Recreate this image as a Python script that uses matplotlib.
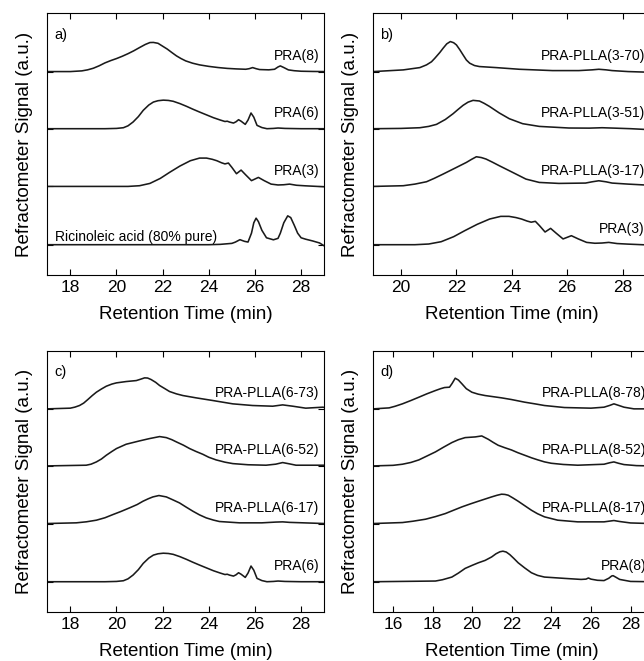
import matplotlib
matplotlib.use("Agg")
import matplotlib.pyplot as plt

plt.rcParams['font.family'] = ['Liberation Sans', 'DejaVu Sans']

# ---- panel a: PRA series and ricinoleic acid ----
pra8_a_t = [17.0, 18.0, 18.5, 18.75, 19.0, 19.25, 19.5, 19.75, 20.0, 20.25, 20.5, 20.75, 21.0, 21.25,
            21.45, 21.6, 21.8, 22.0, 22.2, 22.4, 22.6, 22.8, 23.0, 23.3, 23.6, 24.0, 24.4, 24.8, 25.2,
            25.6, 25.75, 25.9, 26.05, 26.2, 26.6, 26.85, 27.0, 27.1, 27.25, 27.45, 27.7, 28.0, 28.5, 29.0]
pra8_a_h = [0.0, 0.0, 0.012, 0.03, 0.058, 0.10, 0.15, 0.19, 0.225, 0.265, 0.31, 0.36, 0.416, 0.47,
            0.503, 0.505, 0.49, 0.44, 0.39, 0.33, 0.272, 0.225, 0.185, 0.145, 0.116, 0.09, 0.07, 0.055, 0.046,
            0.04, 0.05, 0.069, 0.05, 0.035, 0.03, 0.04, 0.08, 0.098, 0.07, 0.029, 0.015, 0.006, 0.002, 0.0]

pra6_t = [17.0, 19.5, 20.0, 20.3, 20.5, 20.72, 20.95, 21.16, 21.4, 21.6, 21.8, 22.03, 22.25, 22.46,
          22.75, 23.04, 23.3, 23.6, 23.9, 24.2, 24.5, 24.7, 24.8, 24.9, 25.07, 25.18, 25.29, 25.4, 25.58,
          25.7, 25.83, 25.95, 26.09, 26.3, 26.52, 26.8, 27.0, 27.3, 28.0, 29.0]
pra6_h = [0.0, 0.0, 0.005, 0.017, 0.05, 0.116, 0.21, 0.318, 0.41, 0.462, 0.485, 0.495, 0.49, 0.475,
          0.435, 0.387, 0.34, 0.289, 0.24, 0.191, 0.15, 0.125, 0.13, 0.115, 0.098, 0.12, 0.156, 0.13, 0.075,
          0.15, 0.272, 0.2, 0.058, 0.02, 0.0, 0.005, 0.012, 0.005, 0.0, 0.0]

pra3_t = [17.0, 20.5, 21.0, 21.45, 21.9, 22.3, 22.75, 23.2, 23.6, 23.9, 24.15, 24.35, 24.55, 24.7,
          24.85, 25.0, 25.2, 25.4, 25.6, 25.85, 26.15, 26.4, 26.7, 27.0, 27.25, 27.5, 27.8, 28.2, 29.0]
pra3_h = [0.0, 0.0, 0.012, 0.052, 0.139, 0.243, 0.353, 0.445, 0.491, 0.491, 0.47, 0.445, 0.41, 0.39,
          0.405, 0.33, 0.22, 0.283, 0.2, 0.10, 0.156, 0.10, 0.04, 0.025, 0.029, 0.04, 0.02, 0.01, -0.006]

ricin_t = [17.0, 24.0, 24.5, 25.0, 25.15, 25.35, 25.55, 25.7, 25.85, 25.95, 26.05, 26.15, 26.3, 26.5,
           26.8, 27.0, 27.1, 27.25, 27.42, 27.55, 27.7, 27.85, 28.0, 28.2, 28.5, 28.8, 29.0]
ricin_h = [0.0, 0.0, 0.006, 0.023, 0.045, 0.087, 0.058, 0.046, 0.2, 0.38, 0.46, 0.40, 0.25, 0.12,
           0.085, 0.11, 0.2, 0.38, 0.50, 0.47, 0.34, 0.2, 0.12, 0.095, 0.065, 0.03, -0.02]

# ---- panel b: PRA-PLLA from PRA(3) ----
p3_70_t = [19.0, 20.08, 20.68, 20.92, 21.1, 21.22, 21.4, 21.52, 21.65, 21.78, 21.9, 22.0, 22.12, 22.24,
           22.36, 22.48, 22.65, 22.83, 23.43, 24.27, 25.47, 26.42, 26.9, 27.14, 27.4, 27.62, 28.2, 29.0]
p3_70_h = [0.0, 0.029, 0.069, 0.116, 0.17, 0.231, 0.33, 0.405, 0.48, 0.52, 0.5, 0.462, 0.38, 0.289,
           0.2, 0.145, 0.105, 0.087, 0.069, 0.04, 0.017, 0.017, 0.03, 0.04, 0.03, 0.017, 0.0, -0.012]

p3_51_t = [19.0, 20.0, 20.68, 21.0, 21.28, 21.6, 21.88, 22.05, 22.24, 22.42, 22.6, 22.83, 23.0, 23.19,
           23.55, 23.91, 24.39, 24.99, 26.06, 26.8, 27.26, 27.7, 28.3, 29.0]
p3_51_h = [0.0, 0.005, 0.017, 0.04, 0.075, 0.16, 0.26, 0.33, 0.405, 0.46, 0.491, 0.48, 0.44, 0.387,
           0.272, 0.173, 0.087, 0.04, 0.012, 0.01, 0.017, 0.01, 0.0, -0.017]

p3_17_t = [19.0, 20.08, 20.5, 20.92, 21.2, 21.52, 22.0, 22.36, 22.55, 22.72, 22.9, 23.07, 23.3, 23.55,
           24.03, 24.51, 24.99, 25.7, 26.66, 26.9, 27.14, 27.4, 27.62, 28.2, 29.0]
p3_17_h = [0.0, 0.012, 0.04, 0.081, 0.14, 0.214, 0.329, 0.416, 0.47, 0.514, 0.5, 0.474, 0.42, 0.358,
           0.243, 0.127, 0.069, 0.052, 0.058, 0.08, 0.098, 0.08, 0.058, 0.04, 0.02]

# ---- panel c: PRA-PLLA from PRA(6) ----
p6_73_t = [17.0, 18.0, 18.2, 18.4, 18.58, 18.76, 18.95, 19.13, 19.35, 19.56, 19.8, 20.0, 20.42, 20.86,
           21.05, 21.22, 21.35, 21.5, 21.7, 21.87, 22.1, 22.3, 22.6, 22.88, 23.45, 24.17, 25.04, 25.9,
           26.77, 27.2, 27.64, 28.2, 28.94, 29.0]
p6_73_h = [0.0, 0.012, 0.03, 0.058, 0.1, 0.162, 0.23, 0.289, 0.345, 0.393, 0.43, 0.451, 0.474, 0.491,
           0.515, 0.538, 0.535, 0.509, 0.46, 0.405, 0.35, 0.301, 0.26, 0.231, 0.191, 0.145, 0.087, 0.058,
           0.046, 0.069, 0.046, 0.012, 0.029, 0.025]

p6_52_t = [17.0, 18.69, 18.9, 19.13, 19.35, 19.56, 19.8, 20.0, 20.42, 21.0, 21.43, 21.87, 22.16, 22.4,
           22.6, 22.9, 23.17, 23.45, 23.74, 24.0, 24.32, 24.7, 25.04, 25.7, 26.48, 26.9, 27.2, 27.5,
           27.78, 29.0]
p6_52_h = [0.0, 0.012, 0.03, 0.069, 0.12, 0.185, 0.25, 0.301, 0.376, 0.434, 0.474, 0.509, 0.491, 0.455,
           0.416, 0.36, 0.301, 0.25, 0.202, 0.15, 0.104, 0.065, 0.040, 0.02, 0.012, 0.03, 0.058, 0.035,
           0.012, 0.012]

p6_17_t = [17.0, 18.26, 18.7, 19.13, 19.5, 19.85, 20.2, 20.57, 20.9, 21.15, 21.38, 21.58, 21.84, 22.16,
           22.45, 22.73, 23.0, 23.31, 23.6, 23.89, 24.2, 24.46, 25.33, 26.3, 26.9, 27.2, 27.5, 29.0]
p6_17_h = [0.0, 0.012, 0.03, 0.058, 0.1, 0.156, 0.21, 0.272, 0.33, 0.387, 0.43, 0.462, 0.486, 0.462,
           0.41, 0.358, 0.29, 0.214, 0.15, 0.098, 0.06, 0.035, 0.012, 0.012, 0.025, 0.029, 0.02, 0.0]

# ---- panel d: PRA-PLLA from PRA(8) ----
p8_78_t = [15.0, 15.8, 16.1, 16.47, 16.9, 17.3, 17.7, 18.14, 18.4, 18.6, 18.85, 18.98, 19.14, 19.3,
           19.48, 19.7, 19.98, 20.3, 20.65, 21.48, 21.98, 22.65, 23.2, 23.65, 24.66, 26.0, 26.66, 26.95,
           27.16, 27.4, 27.67, 28.17, 29.0]
p8_78_h = [0.0, 0.017, 0.045, 0.087, 0.145, 0.202, 0.26, 0.318, 0.35, 0.37, 0.376, 0.44, 0.532, 0.5,
           0.434, 0.35, 0.289, 0.255, 0.231, 0.191, 0.162, 0.116, 0.085, 0.058, 0.023, 0.012, 0.029, 0.06,
           0.087, 0.06, 0.029, 0.0, 0.0]

p8_52_t = [15.0, 16.0, 16.47, 16.9, 17.3, 17.7, 18.14, 18.55, 18.97, 19.3, 19.64, 20.15, 20.48, 20.81,
           21.05, 21.31, 21.65, 21.98, 22.3, 22.65, 23.0, 23.32, 23.65, 23.99, 24.6, 25.33, 26.66, 26.95,
           27.16, 27.4, 27.67, 28.3, 29.0]
p8_52_h = [0.0, 0.01, 0.029, 0.06, 0.104, 0.17, 0.243, 0.325, 0.405, 0.455, 0.491, 0.503, 0.52, 0.462,
           0.41, 0.358, 0.315, 0.277, 0.23, 0.185, 0.14, 0.104, 0.07, 0.046, 0.025, 0.012, 0.029, 0.055,
           0.069, 0.045, 0.023, 0.005, 0.0]

p8_17_t = [15.0, 16.47, 17.0, 17.64, 18.14, 18.64, 19.05, 19.48, 19.9, 20.31, 20.65, 20.98, 21.25,
           21.48, 21.65, 21.82, 22.05, 22.32, 22.65, 22.99, 23.3, 23.65, 24.32, 25.33, 26.66, 26.9, 27.16,
           27.45, 28.0, 29.0]
p8_17_h = [0.0, 0.017, 0.04, 0.075, 0.12, 0.173, 0.23, 0.289, 0.34, 0.387, 0.425, 0.462, 0.49,
           0.509, 0.505, 0.491, 0.445, 0.387, 0.31, 0.231, 0.17, 0.116, 0.058, 0.029, 0.029, 0.04, 0.052,
           0.035, 0.01, 0.0]

pra8_d_t = [15.0, 18.14, 18.5, 18.97, 19.3, 19.64, 20.0, 20.31, 20.65, 20.98, 21.2, 21.4, 21.55,
            21.72, 21.9, 22.1, 22.32, 22.65, 22.99, 23.3, 23.65, 24.66, 25.5, 25.75, 25.87, 26.0, 26.33,
            26.66, 26.9, 27.05, 27.12, 27.25, 27.45, 28.0, 29.0]
pra8_d_h = [0.0, 0.012, 0.035, 0.081, 0.15, 0.231, 0.285, 0.329, 0.37, 0.43, 0.485, 0.52, 0.53,
            0.515, 0.47, 0.405, 0.329, 0.24, 0.156, 0.11, 0.081, 0.058, 0.04, 0.045, 0.065, 0.045, 0.025,
            0.02, 0.06, 0.1, 0.105, 0.08, 0.04, 0.005, 0.0]

# panel layout: (position, xlim, xticks, letter, traces bottom->top, labels)
panels = [
    ([0.0733, 0.5844, 0.4301, 0.3955], (17, 29), range(18, 30, 2), 'a)',
     [(ricin_t, ricin_h), (pra3_t, pra3_h), (pra6_t, pra6_h), (pra8_a_t, pra8_a_h)],
     ['Ricinoleic acid (80% pure)', 'PRA(3)', 'PRA(6)', 'PRA(8)']),
    ([0.5797, 0.5844, 0.4301, 0.3955], (19, 29), range(20, 30, 2), 'b)',
     [(pra3_t, pra3_h), (p3_17_t, p3_17_h), (p3_51_t, p3_51_h), (p3_70_t, p3_70_h)],
     ['PRA(3)', 'PRA-PLLA(3-17)', 'PRA-PLLA(3-51)', 'PRA-PLLA(3-70)']),
    ([0.0733, 0.0746, 0.4301, 0.3949], (17, 29), range(18, 30, 2), 'c)',
     [(pra6_t, pra6_h), (p6_17_t, p6_17_h), (p6_52_t, p6_52_h), (p6_73_t, p6_73_h)],
     ['PRA(6)', 'PRA-PLLA(6-17)', 'PRA-PLLA(6-52)', 'PRA-PLLA(6-73)']),
    ([0.5797, 0.0746, 0.4301, 0.3949], (15, 29), range(16, 30, 2), 'd)',
     [(pra8_d_t, pra8_d_h), (p8_17_t, p8_17_h), (p8_52_t, p8_52_h), (p8_78_t, p8_78_h)],
     ['PRA(8)', 'PRA-PLLA(8-17)', 'PRA-PLLA(8-52)', 'PRA-PLLA(8-78)']),
]
offsets = [0.52, 1.53, 2.53, 3.52]

fig = plt.figure(figsize=(6.44, 6.61), dpi=100)

for pos, xlim, xticks, letter, traces, labels in panels:
    ax = fig.add_axes(pos)
    for (t, h), off, lab in zip(traces, offsets, labels):
        ax.plot(t, [v + off for v in h], color='#1a1a1a', lw=1.15)
        if lab.startswith('Ricinoleic'):
            ax.text(xlim[0] + 0.33, off + 0.07, lab, fontsize=10, ha='left', va='baseline')
        else:
            ax.text(28.8, off + 0.2, lab, fontsize=10, ha='right', va='baseline')
    ax.set_xlim(*xlim)
    ax.set_ylim(0, 4.53)
    ax.set_xticks(list(xticks))
    ax.set_yticks(offsets)
    ax.tick_params(direction='in', top=True, right=True, length=4, width=0.8,
                   labelsize=12.5, pad=3.5, labelleft=False)
    for sp in ax.spines.values():
        sp.set_linewidth(0.8)
    ax.set_xlabel('Retention Time (min)', fontsize=13.5, labelpad=8)
    ax.set_ylabel('Refractometer Signal (a.u.)', fontsize=13.5, labelpad=10)
    ax.text(0.025, 0.945, letter, transform=ax.transAxes, fontsize=10.5, va='top', ha='left')

fig.savefig('out.png', dpi=100)
